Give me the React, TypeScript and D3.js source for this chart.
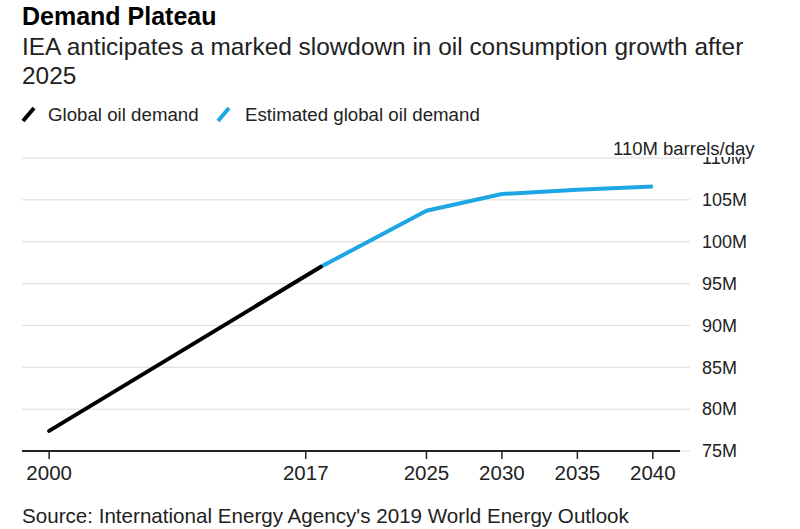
import React from 'react';
import * as d3 from 'd3';

// historical demand (million barrels/day)
const histYears = [2000, 2018];
const histValues = [77.4, 97.0];

// IEA estimate
const estYears = [2018, 2025, 2030, 2035, 2040];
const estValues = [97.0, 103.7, 105.7, 106.2, 106.6];

const xTicks = [2000, 2017, 2025, 2030, 2035, 2040];
const yTicks = [75, 80, 85, 90, 95, 100, 105, 110];

const FONT = "Helvetica, Arial, 'Liberation Sans', sans-serif";
const BLUE = '#1ea6e4';

const App: React.FC = () => {
  const x = d3.scaleLinear().domain([1998.2, 2041.8]).range([22, 680]);
  const y = d3.scaleLinear().domain([75, 110]).range([451, 158]);

  const line = d3.line<[number, number]>()
    .x(d => x(d[0]))
    .y(d => y(d[1]));

  const hist = histYears.map((yr, i) => [yr, histValues[i]] as [number, number]);
  const est = estYears.map((yr, i) => [yr, estValues[i]] as [number, number]);

  return (
    <svg width={800} height={529} style={{ position: 'absolute', left: 0, top: 0, background: '#fff' }} fontFamily={FONT}>
      <text x={22} y={25} fontSize={25} fontWeight="bold" fill="#000">Demand Plateau</text>
      <text x={22} y={55} fontSize={24.4} fill="#222">IEA anticipates a marked slowdown in oil consumption growth after</text>
      <text x={22} y={84} fontSize={24.4} fill="#222">2025</text>

      {/* legend */}
      <line x1={23} y1={121} x2={34} y2={108} stroke="#000" strokeWidth={4} />
      <text x={48} y={121} fontSize={18.7} fill="#222">Global oil demand</text>
      <line x1={218} y1={121} x2={229} y2={108} stroke={BLUE} strokeWidth={4} />
      <text x={245} y={121} fontSize={18.7} fill="#222">Estimated global oil demand</text>

      {/* gridlines */}
      {yTicks.slice(1).map(t => (
        <line key={t} x1={22} x2={690} y1={y(t)} y2={y(t)} stroke="#dcdcdc" strokeWidth={1} />
      ))}
      <line x1={680} x2={690} y1={y(75)} y2={y(75)} stroke="#dcdcdc" strokeWidth={1} />

      {/* y labels */}
      {yTicks.map(t => (
        <text key={t} x={702} y={y(t)} dy="0.35em" fontSize={18} fill="#222">{t}M</text>
      ))}
      <rect x={608} y={136} width={170} height={21} fill="#fff" />
      <text x={613} y={155} fontSize={18.5} fill="#222">110M barrels/day</text>

      {/* x axis */}
      <line x1={22} x2={680} y1={y(75)} y2={y(75)} stroke="#222" strokeWidth={2} />
      {xTicks.map(t => (
        <g key={t} transform={`translate(${x(t)},0)`}>
          <line y1={y(75)} y2={y(75) + 8} stroke="#222" strokeWidth={1.5} />
          <text y={480} textAnchor="middle" fontSize={20.5} fill="#222">{t}</text>
        </g>
      ))}

      {/* series */}
      <path d={line(est) || ''} fill="none" stroke={BLUE} strokeWidth={4} strokeLinejoin="round" />
      <path d={line(hist) || ''} fill="none" stroke="#000" strokeWidth={4} strokeLinecap="round" />

      <text x={22} y={523} fontSize={20.6} fill="#222">Source: International Energy Agency's 2019 World Energy Outlook</text>
    </svg>
  );
};

export default App;
